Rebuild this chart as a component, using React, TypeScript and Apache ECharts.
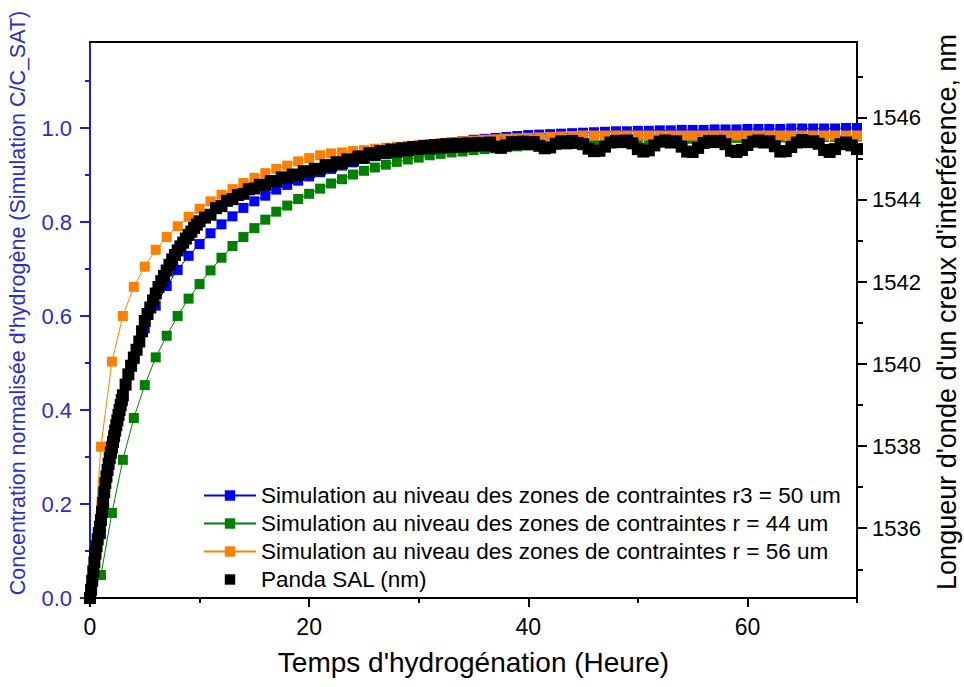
import React, { useEffect, useRef } from "react";
import * as echarts from "echarts";

const FONT = '"Liberation Sans", Arial, Helvetica, sans-serif';
const BLUE_AXIS = "#1c1ce8";
const BLUE_TEXT = "#2b2bd2";

// Simulation time grid (hours)
const simHours = [
  0, 1, 2, 3, 4, 5, 6, 7, 8, 9, 10, 11, 12, 13, 14, 15, 16, 17, 18, 19, 20,
  21, 22, 23, 24, 25, 26, 27, 28, 29, 30, 31, 32, 33, 34, 35, 36, 37, 38, 39, 40,
  41, 42, 43, 44, 45, 46, 47, 48, 49, 50, 51, 52, 53, 54, 55, 56, 57, 58, 59, 60,
  61, 62, 63, 64, 65, 66, 67, 68, 69, 70,
];

// r3 = 50 um (blue)
const simR50 = [
  0, 0.136, 0.311, 0.425, 0.508, 0.574, 0.622, 0.664, 0.698, 0.728, 0.753,
  0.776, 0.795, 0.812, 0.83, 0.844, 0.856, 0.869, 0.879, 0.888, 0.897,
  0.906, 0.913, 0.92, 0.927, 0.934, 0.94, 0.945, 0.95, 0.955, 0.959,
  0.963, 0.966, 0.969, 0.972, 0.975, 0.977, 0.979, 0.981, 0.983, 0.985,
  0.986, 0.987, 0.988, 0.989, 0.99, 0.991, 0.992, 0.993, 0.993, 0.994,
  0.994, 0.995, 0.995, 0.996, 0.996, 0.996, 0.997, 0.997, 0.997, 0.998,
  0.998, 0.998, 0.998, 0.999, 0.999, 0.999, 0.999, 0.999, 1.0, 1.0,
];

// r = 44 um (green)
const simR44 = [
  0, 0.049, 0.181, 0.294, 0.383, 0.453, 0.512, 0.558, 0.6, 0.637, 0.668,
  0.697, 0.724, 0.749, 0.768, 0.787, 0.805, 0.822, 0.835, 0.849, 0.86,
  0.871, 0.882, 0.891, 0.901, 0.909, 0.916, 0.922, 0.928, 0.933, 0.937,
  0.942, 0.945, 0.948, 0.95, 0.953, 0.955, 0.957, 0.959, 0.961, 0.963,
  0.964, 0.966, 0.967, 0.969, 0.97, 0.971, 0.972, 0.973, 0.974, 0.975,
  0.975, 0.976, 0.976, 0.977, 0.977, 0.978, 0.978, 0.978, 0.979, 0.979,
  0.979, 0.98, 0.98, 0.98, 0.98, 0.981, 0.981, 0.981, 0.981, 0.982,
];

// r = 56 um (orange)
const simR56 = [
  0, 0.322, 0.503, 0.6, 0.662, 0.705, 0.741, 0.768, 0.791, 0.811, 0.828,
  0.844, 0.858, 0.87, 0.883, 0.894, 0.904, 0.913, 0.92, 0.929, 0.936,
  0.942, 0.946, 0.948, 0.951, 0.953, 0.956, 0.958, 0.96, 0.962, 0.964,
  0.966, 0.968, 0.97, 0.972, 0.973, 0.975, 0.976, 0.977, 0.978, 0.979,
  0.98, 0.981, 0.982, 0.983, 0.984, 0.984, 0.984, 0.984, 0.984, 0.984,
  0.984, 0.984, 0.984, 0.984, 0.984, 0.984, 0.984, 0.984, 0.984, 0.984,
  0.984, 0.984, 0.984, 0.984, 0.984, 0.984, 0.984, 0.984, 0.984, 0.984,
];

// Panda SAL measurement: time (h) and wavelength (nm)
const pandaHours = [
  0, 0.1, 0.2, 0.3, 0.4, 0.5, 0.6, 0.7, 0.8, 0.9, 1.0, 1.1, 1.2, 1.3, 1.4, 1.5,
  1.6, 1.7, 1.8, 1.9, 2.0, 2.1, 2.2, 2.3, 2.4, 2.5, 2.6, 2.7, 2.8, 2.9, 3.0,
  3.25, 3.5, 3.75, 4.0, 4.25, 4.5, 4.75, 5.0, 5.25, 5.5, 5.75, 6.0, 6.25, 6.5,
  6.75, 7.0, 7.25, 7.5, 7.75, 8.0, 8.25, 8.5, 8.75, 9.0, 9.25, 9.5, 9.75, 10.0,
  10.5, 11, 11.5, 12, 12.5, 13, 13.5, 14, 14.5, 15, 15.5, 16, 16.5, 17, 17.5,
  18, 18.5, 19, 19.5, 20, 20.5, 21, 21.5, 22, 22.5, 23, 23.5, 24, 24.5, 25,
  25.5, 26, 26.5, 27, 27.5, 28, 28.5, 29, 29.5, 30, 30.5, 31, 31.5, 32, 32.5,
  33, 33.5, 34, 34.5, 35, 35.5, 36, 36.5, 37, 37.5, 38, 38.5, 39, 39.5, 40,
  40.5, 41, 41.5, 42, 42.5, 43, 43.5, 44, 44.5, 45, 45.5, 46, 46.5, 47, 47.5,
  48, 48.5, 49, 49.5, 50, 50.5, 51, 51.5, 52, 52.5, 53, 53.5, 54, 54.5, 55,
  55.5, 56, 56.5, 57, 57.5, 58, 58.5, 59, 59.5, 60, 60.5, 61, 61.5, 62, 62.5,
  63, 63.5, 64, 64.5, 65, 65.5, 66, 66.5, 67, 67.5, 68, 68.5, 69, 69.5, 70,
];
const pandaNm = [
  1534.3, 1534.5, 1534.72, 1534.95, 1535.17, 1535.38, 1535.56, 1535.73, 1535.88,
  1536.04, 1536.2, 1536.4, 1536.62, 1536.88, 1537.1, 1537.26, 1537.42, 1537.57,
  1537.71, 1537.84, 1537.97, 1538.1, 1538.24, 1538.38, 1538.51, 1538.63, 1538.76,
  1538.88, 1539.0, 1539.12, 1539.24,
  1539.5, 1539.75, 1539.96, 1540.16, 1540.35, 1540.55, 1540.8, 1541.05, 1541.22,
  1541.38, 1541.55, 1541.72, 1541.88, 1542.02, 1542.15, 1542.28, 1542.42, 1542.55,
  1542.66, 1542.77, 1542.87, 1542.96, 1543.06, 1543.15, 1543.23, 1543.32, 1543.4,
  1543.48,
  1543.57, 1543.64, 1543.8, 1543.85, 1543.98, 1544.02, 1544.12, 1544.15, 1544.26,
  1544.28, 1544.37, 1544.37, 1544.46, 1544.46, 1544.55, 1544.54, 1544.62, 1544.61,
  1544.7, 1544.68, 1544.76, 1544.75, 1544.85, 1544.83, 1544.92, 1544.9, 1544.99,
  1544.97, 1545.06, 1545.03, 1545.14, 1545.1, 1545.19, 1545.15, 1545.23, 1545.18,
  1545.26, 1545.21, 1545.29, 1545.24, 1545.32, 1545.26, 1545.34, 1545.28, 1545.36,
  1545.29, 1545.37, 1545.3, 1545.38, 1545.32, 1545.39, 1545.33, 1545.4, 1545.3,
  1545.27, 1545.33, 1545.41, 1545.36, 1545.42, 1545.36, 1545.41, 1545.32, 1545.26,
  1545.28, 1545.37, 1545.43, 1545.38, 1545.44, 1545.39, 1545.36, 1545.25, 1545.19,
  1545.2, 1545.3, 1545.4, 1545.44, 1545.41, 1545.45, 1545.38, 1545.24, 1545.18,
  1545.21, 1545.33, 1545.42, 1545.45, 1545.4, 1545.43, 1545.3, 1545.18, 1545.17,
  1545.27, 1545.39, 1545.44, 1545.41, 1545.44, 1545.36, 1545.2, 1545.17, 1545.22,
  1545.34, 1545.42, 1545.45, 1545.4, 1545.43, 1545.31, 1545.18, 1545.19, 1545.29,
  1545.4, 1545.46, 1545.41, 1545.43, 1545.37, 1545.22, 1545.17, 1545.24, 1545.36,
  1545.4, 1545.33, 1545.24,
];

const xMajorTicks = [0, 20, 40, 60];
const xMinorTicks = [10, 30, 50, 70];
const leftMajorTicks = [0, 0.2, 0.4, 0.6, 0.8, 1.0];
const leftMinorTicks = [0.1, 0.3, 0.5, 0.7, 0.9, 1.1];
const rightMajorTicks = [1536, 1538, 1540, 1542, 1544, 1546];
const rightMinorTicks = [1535, 1537, 1539, 1541, 1543, 1545, 1547];

const names = [
  "Simulation au niveau des zones de contraintes r3 = 50 um",
  "Simulation au niveau des zones de contraintes r = 44 um",
  "Simulation au niveau des zones de contraintes r = 56 um",
  "Panda SAL (nm)",
];
const xTitle = "Temps d'hydrogénation (Heure)";
const leftTitle = "Concentration normalisée d'hydrogène (Simulation C/C_SAT)";
const rightTitle = "Longueur d'onde d'un creux d'interférence, nm";

export default function App() {
  const ref = useRef<HTMLDivElement>(null);
  useEffect(() => {
    const chart = echarts.init(ref.current as HTMLDivElement, null, { renderer: "svg" });
    const simSeries = (name: string, vals: number[], color: string) => ({
      type: "line",
      name,
      xAxisIndex: 0,
      yAxisIndex: 0,
      data: simHours.map((h, i) => [h, vals[i]]),
      symbol: "rect",
      symbolSize: 10,
      showAllSymbol: true,
      lineStyle: { width: 1, color },
      itemStyle: { color },
      emphasis: { disabled: true },
    });
    chart.setOption({
      animation: false,
      backgroundColor: "#ffffff",
      textStyle: { fontFamily: FONT },
      grid: { left: 90, right: 107, top: 42, bottom: 89, containLabel: false, outerBoundsMode: "none" },
      legend: {
        orient: "vertical",
        left: 203,
        top: 484,
        padding: 0,
        itemWidth: 52,
        itemHeight: 13,
        itemGap: 5,
        selectedMode: false,
        textStyle: { fontSize: 22.5, color: "#000", fontFamily: FONT, lineHeight: 23 },
        data: names,
      },
      graphic: [
        {
          type: "text",
          x: 18,
          y: 303,
          rotation: Math.PI / 2,
          silent: true,
          style: { text: leftTitle, fontSize: 21.5, fontFamily: FONT, fill: BLUE_TEXT, align: "center", verticalAlign: "middle" },
        },
        {
          type: "text",
          x: 947,
          y: 312,
          rotation: Math.PI / 2,
          silent: true,
          style: { text: rightTitle, fontSize: 27, fontFamily: FONT, fill: "#000", align: "center", verticalAlign: "middle" },
        },
      ],
      xAxis: [
        {
          type: "value",
          min: 0,
          max: 70,
          position: "bottom",
          axisLine: { show: true, onZero: false, lineStyle: { color: "#000", width: 2 } },
          axisTick: { show: true, inside: false, length: 9, customValues: xMajorTicks, lineStyle: { color: "#000", width: 2 } },
          axisLabel: { customValues: xMajorTicks, fontSize: 23, color: "#000", margin: 17, fontFamily: FONT },
          splitLine: { show: false },
          name: xTitle,
          nameLocation: "middle",
          nameGap: 50,
          nameMoveOverlap: false,
          nameTextStyle: { fontSize: 28, color: "#000", fontFamily: FONT },
        },
        {
          type: "value",
          min: 0,
          max: 70,
          position: "bottom",
          axisLine: { show: false, onZero: false },
          axisTick: { show: true, inside: false, length: 5, customValues: xMinorTicks, lineStyle: { color: "#000", width: 2 } },
          axisLabel: { show: false },
          splitLine: { show: false },
        },
        {
          type: "value",
          min: 0,
          max: 70,
          position: "top",
          axisLine: { show: true, onZero: false, lineStyle: { color: "#000", width: 2 } },
          axisTick: { show: false },
          axisLabel: { show: false },
          splitLine: { show: false },
        },
      ],
      yAxis: [
        {
          type: "value",
          min: 0,
          max: 1.183,
          position: "left",
          axisLine: { show: true, onZero: false, lineStyle: { color: BLUE_AXIS, width: 2 } },
          axisTick: { show: true, inside: false, length: 10, customValues: leftMajorTicks, lineStyle: { color: BLUE_AXIS, width: 2 } },
          axisLabel: {
            customValues: leftMajorTicks,
            formatter: (v: number) => v.toFixed(1),
            fontSize: 22,
            color: BLUE_TEXT,
            margin: 18,
            fontFamily: FONT,
          },
          splitLine: { show: false },
        },
        {
          type: "value",
          min: 0,
          max: 1.183,
          position: "left",
          axisLine: { show: false, onZero: false },
          axisTick: { show: true, inside: false, length: 5, customValues: leftMinorTicks, lineStyle: { color: BLUE_AXIS, width: 2 } },
          axisLabel: { show: false },
          splitLine: { show: false },
        },
        {
          type: "value",
          min: 1534.3,
          max: 1547.85,
          position: "right",
          axisLine: { show: true, onZero: false, lineStyle: { color: "#000", width: 2 } },
          axisTick: { show: true, inside: false, length: 10, customValues: rightMajorTicks, lineStyle: { color: "#000", width: 2 } },
          axisLabel: {
            customValues: rightMajorTicks,
            formatter: (v: number) => String(Math.round(v)),
            fontSize: 22,
            color: "#000",
            margin: 15,
            fontFamily: FONT,
          },
          splitLine: { show: false },
        },
        {
          type: "value",
          min: 1534.3,
          max: 1547.85,
          position: "right",
          axisLine: { show: false, onZero: false },
          axisTick: { show: true, inside: false, length: 6, customValues: rightMinorTicks, lineStyle: { color: "#000", width: 2 } },
          axisLabel: { show: false },
          splitLine: { show: false },
        },
      ],
      series: [
        simSeries(names[0], simR50, "#0000ff"),
        simSeries(names[1], simR44, "#008000"),
        simSeries(names[2], simR56, "#ff8000"),
        {
          type: "line",
          name: names[3],
          xAxisIndex: 0,
          yAxisIndex: 2,
          data: pandaHours.map((h, i) => [h, pandaNm[i]]),
          symbol: "rect",
          symbolSize: 12,
          showAllSymbol: true,
          lineStyle: { width: 0, opacity: 0, color: "#000" },
          itemStyle: { color: "#000" },
          emphasis: { disabled: true },
        },
      ],
    });
    return () => chart.dispose();
  }, []);
  return <div ref={ref} style={{ position: "absolute", left: 0, top: 0, width: 964, height: 687 }} />;
}
